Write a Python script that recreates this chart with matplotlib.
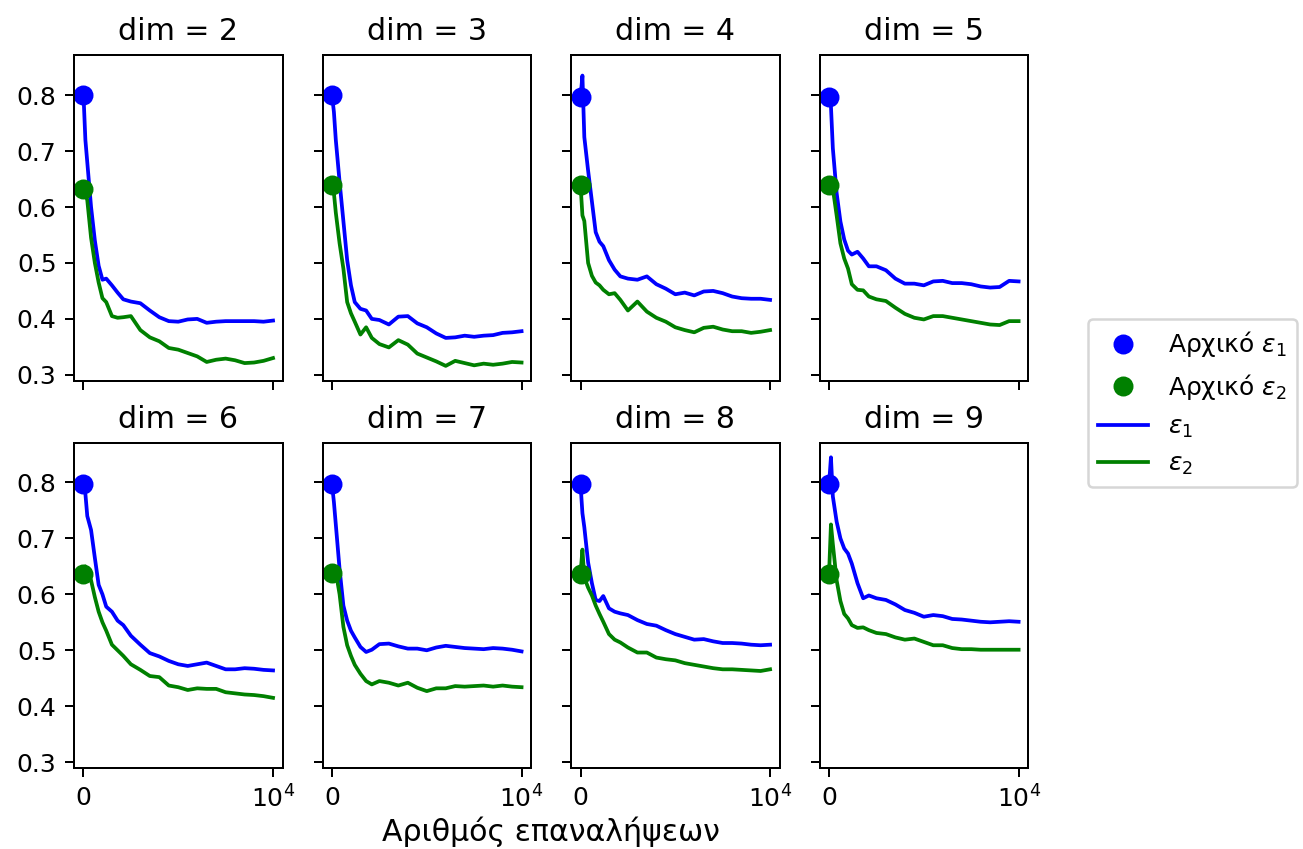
import matplotlib.pyplot as plt

# iteration numbers where the errors were sampled
iters = [0, 100, 200, 400, 600, 800, 1000, 1200, 1500, 1800, 2100, 2500, 3000, 3500,
         4000, 4500, 5000, 5500, 6000, 6500, 7000, 7500, 8000, 8500, 9000, 9500, 10000]

dims = [2, 3, 4, 5, 6, 7, 8, 9]

e1_d2 = [0.800, 0.720, 0.680, 0.600, 0.540, 0.495, 0.470, 0.472, 0.460, 0.447, 0.435, 0.431, 0.428, 0.415,
         0.403, 0.396, 0.395, 0.399, 0.400, 0.393, 0.395, 0.396, 0.396, 0.396, 0.396, 0.395, 0.397]
e2_d2 = [0.633, 0.625, 0.612, 0.545, 0.500, 0.465, 0.437, 0.430, 0.405, 0.402, 0.403, 0.405, 0.380, 0.367,
         0.360, 0.348, 0.345, 0.339, 0.333, 0.323, 0.327, 0.329, 0.326, 0.321, 0.322, 0.325, 0.330]

e1_d3 = [0.800, 0.770, 0.720, 0.645, 0.575, 0.505, 0.460, 0.430, 0.418, 0.415, 0.400, 0.398, 0.390, 0.404,
         0.405, 0.392, 0.385, 0.374, 0.366, 0.367, 0.370, 0.368, 0.370, 0.371, 0.375, 0.376, 0.378]
e2_d3 = [0.640, 0.625, 0.590, 0.535, 0.490, 0.430, 0.410, 0.395, 0.372, 0.385, 0.366, 0.355, 0.349, 0.362,
         0.354, 0.338, 0.331, 0.324, 0.316, 0.325, 0.321, 0.317, 0.320, 0.318, 0.320, 0.323, 0.322]

e1_d4 = [0.796, 0.835, 0.725, 0.665, 0.610, 0.555, 0.538, 0.530, 0.505, 0.488, 0.476, 0.472, 0.470, 0.476,
         0.462, 0.454, 0.444, 0.447, 0.442, 0.449, 0.450, 0.446, 0.440, 0.437, 0.436, 0.436, 0.434]
e2_d4 = [0.640, 0.585, 0.575, 0.500, 0.477, 0.465, 0.460, 0.452, 0.444, 0.446, 0.434, 0.415, 0.431, 0.413,
         0.402, 0.395, 0.385, 0.380, 0.376, 0.384, 0.386, 0.381, 0.378, 0.378, 0.375, 0.377, 0.380]

e1_d5 = [0.797, 0.780, 0.705, 0.625, 0.574, 0.542, 0.522, 0.515, 0.520, 0.508, 0.494, 0.494, 0.487, 0.472,
         0.463, 0.463, 0.460, 0.467, 0.468, 0.464, 0.464, 0.462, 0.458, 0.456, 0.457, 0.468, 0.467]
e2_d5 = [0.640, 0.636, 0.633, 0.585, 0.535, 0.508, 0.490, 0.462, 0.452, 0.451, 0.440, 0.435, 0.432, 0.420,
         0.409, 0.402, 0.399, 0.405, 0.405, 0.402, 0.399, 0.396, 0.393, 0.390, 0.389, 0.396, 0.396]

e1_d6 = [0.797, 0.780, 0.740, 0.715, 0.665, 0.617, 0.600, 0.578, 0.569, 0.553, 0.545, 0.526, 0.510, 0.495,
         0.489, 0.481, 0.475, 0.472, 0.475, 0.478, 0.472, 0.466, 0.466, 0.468, 0.467, 0.465, 0.464]
e2_d6 = [0.637, 0.650, 0.645, 0.625, 0.595, 0.569, 0.550, 0.535, 0.510, 0.500, 0.490, 0.475, 0.465, 0.454,
         0.452, 0.437, 0.434, 0.429, 0.432, 0.431, 0.431, 0.425, 0.423, 0.421, 0.420, 0.418, 0.415]

e1_d7 = [0.797, 0.765, 0.725, 0.645, 0.580, 0.553, 0.535, 0.523, 0.506, 0.497, 0.501, 0.511, 0.512, 0.507,
         0.503, 0.503, 0.500, 0.505, 0.508, 0.506, 0.504, 0.503, 0.502, 0.504, 0.503, 0.501, 0.498]
e2_d7 = [0.639, 0.645, 0.640, 0.600, 0.542, 0.509, 0.490, 0.474, 0.458, 0.445, 0.439, 0.445, 0.442, 0.437,
         0.442, 0.433, 0.427, 0.432, 0.432, 0.436, 0.435, 0.436, 0.437, 0.435, 0.437, 0.435, 0.434]

e1_d8 = [0.797, 0.745, 0.720, 0.657, 0.620, 0.590, 0.588, 0.597, 0.575, 0.569, 0.566, 0.563, 0.554, 0.547,
         0.544, 0.536, 0.529, 0.524, 0.519, 0.520, 0.516, 0.513, 0.513, 0.512, 0.510, 0.509, 0.510]
e2_d8 = [0.637, 0.680, 0.630, 0.612, 0.598, 0.580, 0.565, 0.551, 0.529, 0.519, 0.514, 0.505, 0.496, 0.496,
         0.487, 0.484, 0.482, 0.477, 0.474, 0.471, 0.468, 0.466, 0.466, 0.465, 0.464, 0.463, 0.466]

e1_d9 = [0.797, 0.845, 0.775, 0.730, 0.700, 0.682, 0.673, 0.655, 0.620, 0.593, 0.598, 0.593, 0.590, 0.582,
         0.572, 0.567, 0.560, 0.563, 0.561, 0.556, 0.555, 0.553, 0.551, 0.550, 0.551, 0.552, 0.551]
e2_d9 = [0.637, 0.725, 0.690, 0.625, 0.588, 0.565, 0.557, 0.545, 0.540, 0.541, 0.536, 0.531, 0.529, 0.523,
         0.519, 0.521, 0.515, 0.509, 0.509, 0.504, 0.502, 0.502, 0.501, 0.501, 0.501, 0.501, 0.501]

eps1 = [e1_d2, e1_d3, e1_d4, e1_d5, e1_d6, e1_d7, e1_d8, e1_d9]
eps2 = [e2_d2, e2_d3, e2_d4, e2_d5, e2_d6, e2_d7, e2_d8, e2_d9]

fig, axes = plt.subplots(2, 4, sharex=True, sharey=True, figsize=(1303 / 180, 849 / 180), dpi=180)
fig.subplots_adjust(left=0.0568, right=0.789, top=0.935, bottom=0.0954, wspace=0.192, hspace=0.19)

for ax, d, y1, y2 in zip(axes.flat, dims, eps1, eps2):
    l1, = ax.plot(iters, y1, color="blue", label=r"$\varepsilon_1$")
    l2, = ax.plot(iters, y2, color="green", label=r"$\varepsilon_2$")
    m1, = ax.plot(iters[0], y1[0], "o", color="blue", markersize=7, label=r"Αρχικό $\varepsilon_1$")
    m2, = ax.plot(iters[0], y2[0], "o", color="green", markersize=7, label=r"Αρχικό $\varepsilon_2$")
    ax.set_title(f"dim = {d}", fontsize=12)
    ax.set_xticks([0, 10000], ["0", r"$10^4$"])

fig.legend([m1, m2, l1, l2], [m1.get_label(), m2.get_label(), l1.get_label(), l2.get_label()],
           loc="center left", bbox_to_anchor=(0.8255, 0.525), fontsize=10)
fig.text(0.423, 1 - 832 / 849, "Αριθμός επαναλήψεων", ha="center", va="center", fontsize=12)

fig.savefig("out.png", dpi=180)
